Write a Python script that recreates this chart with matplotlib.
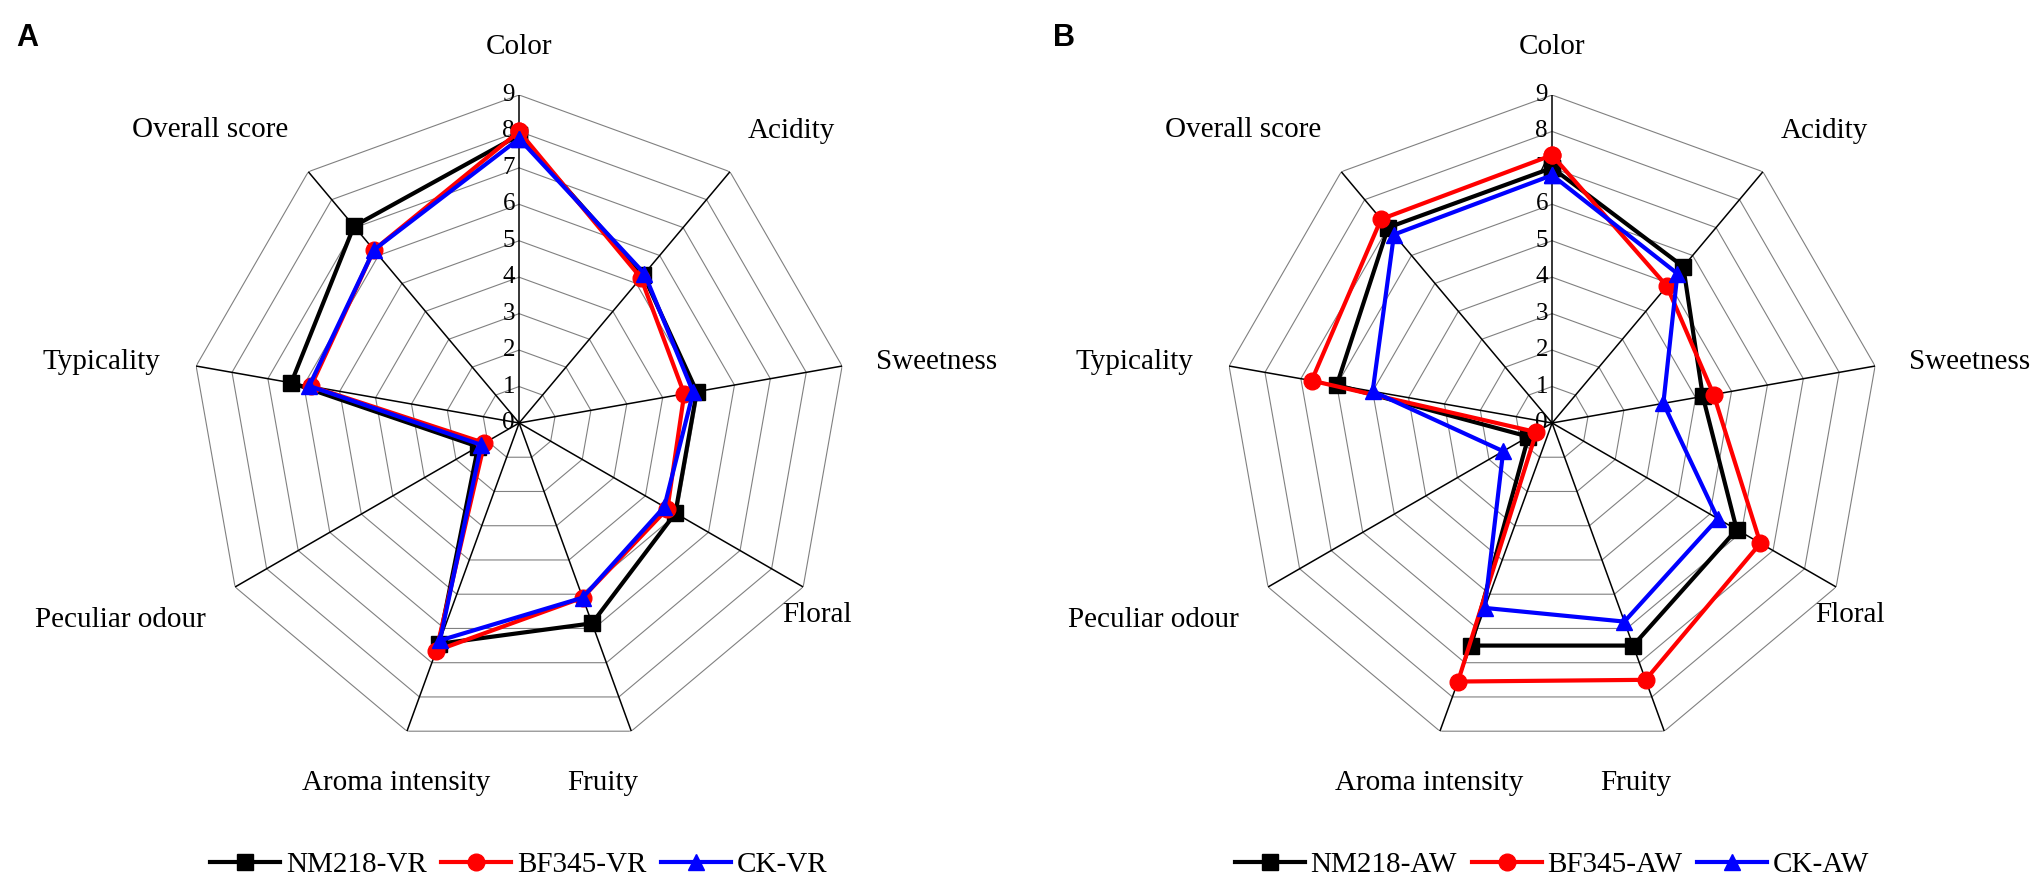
import numpy as np
import matplotlib
matplotlib.use("Agg")
import matplotlib.pyplot as plt
from matplotlib.lines import Line2D

plt.rcParams['font.family'] = ['Liberation Serif', 'DejaVu Serif']

attributes = ['Color', 'Acidity', 'Sweetness', 'Floral', 'Fruity',
              'Aroma intensity', 'Peculiar odour', 'Typicality', 'Overall score']

# panel A (VR)
nm218_vr = [7.9, 5.3, 4.95, 4.95, 5.85, 6.45, 1.3, 6.35, 7.05]
bf345_vr = [8.0, 5.2, 4.6, 4.7, 5.1, 6.65, 1.1, 5.8, 6.2]
ck_vr = [7.8, 5.35, 4.85, 4.6, 5.1, 6.35, 1.2, 5.85, 6.2]

# panel B (AW)
nm218_aw = [7.0, 5.6, 4.2, 5.85, 6.5, 6.5, 0.75, 6.0, 7.0]
bf345_aw = [7.35, 4.9, 4.5, 6.6, 7.5, 7.55, 0.5, 6.7, 7.3]
ck_aw = [6.8, 5.35, 3.1, 5.25, 5.8, 5.4, 1.55, 5.0, 6.75]

ticks = [0, 1, 2, 3, 4, 5, 6, 7, 8, 9]

# label centres in axes fraction (axes box is square)
label_pos = [(0.5, 1.073), (0.915, 0.945), (1.136, 0.593), (0.954, 0.207),
             (0.628, -0.049), (0.312, -0.049), (-0.108, 0.200),
             (-0.137, 0.593), (0.029, 0.947)]

styles = [('black', 's', 11), ('red', 'o', 12), ('blue', '^', 12)]


def draw_radar(ax, series, names):
    n = len(attributes)
    theta = np.linspace(0, 2 * np.pi, n, endpoint=False)
    ax.set_theta_offset(np.pi / 2)
    ax.set_theta_direction(-1)
    ax.set_ylim(0, 9)
    ax.set_xticks([])
    ax.set_yticks([])
    ax.grid(False)
    ax.spines['polar'].set_visible(False)

    closed = np.append(theta, theta[0])
    for k in ticks[1:]:
        ax.plot(closed, [k] * (n + 1), color='#808080', lw=0.8, zorder=1)
    for t in theta:
        ax.plot([t, t], [0, 9], color='black', lw=1.1, zorder=2)

    for k in ticks:
        ax.annotate(str(k), xy=(0, k), xytext=(-3, 0), textcoords='offset points',
                    ha='right', va='center', fontsize=18, zorder=3)

    for i, (vals, name) in enumerate(zip(series, names)):
        color, marker, ms = styles[i]
        v = np.append(vals, vals[0])
        ax.plot(closed, v, color=color, lw=3, marker=marker, markersize=ms,
                label=name, zorder=4 + i, clip_on=False)

    for lab, (x, y) in zip(attributes, label_pos):
        ax.text(x, y, lab, transform=ax.transAxes, ha='center', va='center',
                fontsize=21)


fig = plt.figure(figsize=(20.33, 8.92), dpi=100)
axA = fig.add_axes([0.0940, 0.1581, 0.3227, 0.7354], projection='polar')
axB = fig.add_axes([0.6021, 0.1581, 0.3227, 0.7354], projection='polar')

names_a = ['NM218-VR', 'BF345-VR', 'CK-VR']
names_b = ['NM218-AW', 'BF345-AW', 'CK-AW']
draw_radar(axA, [nm218_vr, bf345_vr, ck_vr], names_a)
draw_radar(axB, [nm218_aw, bf345_aw, ck_aw], names_b)

for cx, names in [(0.2553, names_a), (0.7634, names_b)]:
    handles = [Line2D([], [], color=c, lw=3, marker=m, markersize=s)
               for c, m, s in styles]
    fig.legend(handles, names, loc='center', bbox_to_anchor=(cx, 0.03), ncol=3,
               frameon=False, fontsize=21, handlelength=2.4, handletextpad=0.2,
               columnspacing=0.5)

fig.text(0.008, 1 - 38 / 892, 'A', fontsize=22, fontweight='bold',
         family='Liberation Sans', ha='left', va='center')
fig.text(0.518, 1 - 38 / 892, 'B', fontsize=22, fontweight='bold',
         family='Liberation Sans', ha='left', va='center')

fig.savefig('out.png', dpi=100)
